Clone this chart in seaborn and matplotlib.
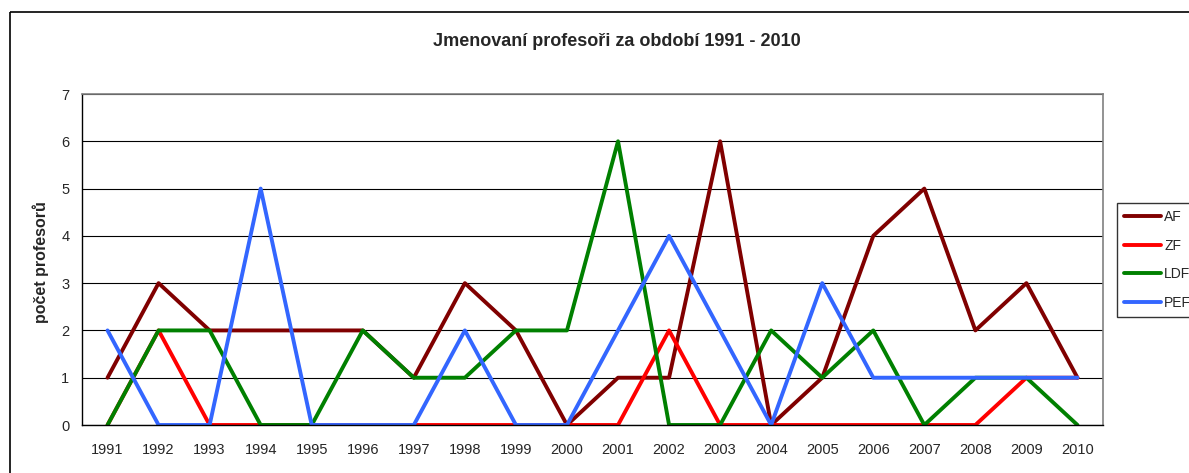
import numpy as np
import pandas as pd
import matplotlib
matplotlib.use("Agg")
import matplotlib.pyplot as plt
import seaborn as sns
from matplotlib.lines import Line2D

years = [str(y) for y in range(1991, 2011)]
af = [1, 3, 2, 2, 2, 2, 1, 3, 2, 0, 1, 1, 6, 0, 1, 4, 5, 2, 3, 1]
zf = [0, 2, 0, 0, 0, 0, 0, 0, 0, 0, 0, 2, 0, 0, 0, 0, 0, 0, 1, 1]
ldf = [0, 2, 2, 0, 0, 2, 1, 1, 2, 2, 6, 0, 0, 2, 1, 2, 0, 1, 1, 0]
pef = [2, 0, 0, 5, 0, 0, 0, 2, 0, 0, 2, 4, 2, 0, 3, 1, 1, 1, 1, 1]
series = ["AF", "ZF", "LDF", "PEF"]
colors = ["#800000", "#FF0000", "#008000", "#3366FF"]

# long format for seaborn
df = pd.DataFrame({
    "pos": list(range(len(years))) * 4,
    "fakulta": np.repeat(series, len(years)),
    "pocet": af + zf + ldf + pef,
})

sns.set_style("white")
plt.rcParams["font.family"] = ["Liberation Sans", "DejaVu Sans"]

fig = plt.figure(figsize=(11.89, 4.73), dpi=100)
ax = fig.add_axes([82 / 1189, 48 / 473, 1021 / 1189, 331 / 473])

sns.lineplot(data=df, x="pos", y="pocet", hue="fakulta", hue_order=series,
             palette=colors, linewidth=2.8, ax=ax, legend=True)

ax.set_xlim(-0.5, len(years) - 0.5)
ax.set_ylim(0, 7)
ax.set_yticks(range(0, 8))
ax.set_xticks(range(len(years)))
ax.set_xticklabels(years)
ax.set_xticks(np.arange(-0.5, len(years), 1), minor=True)
ax.tick_params(axis="x", which="major", length=0, pad=13, labelsize=10.5)
ax.tick_params(axis="x", which="minor", length=5, width=1, color="black", direction="out")
ax.tick_params(axis="y", length=5, width=1, color="black", direction="out", labelsize=10.5, pad=4)
ax.yaxis.grid(True, color="black", linewidth=0.8)
ax.set_axisbelow(True)

for side in ["left", "bottom"]:
    ax.spines[side].set_color("black")
    ax.spines[side].set_linewidth(1)
for side in ["top", "right"]:
    ax.spines[side].set_color("#808080")
    ax.spines[side].set_linewidth(1.2)

ax.set_xlabel("")
ax.set_ylabel("")
fig.text(41 / 1189, 1 - 262 / 473, "počet profesorů", rotation=90,
         ha="center", va="center", fontsize=11.5, fontweight="bold")

fig.text(617 / 1189, 1 - 42 / 473, "Jmenovaní profesoři za období 1991 - 2010",
         ha="center", va="center", fontsize=13, fontweight="bold")

leg = ax.legend(loc="upper left", bbox_to_anchor=(1117 / 1189, 1 - 203 / 473),
                bbox_transform=fig.transFigure, frameon=True, fancybox=False,
                fontsize=10, handlelength=2.7, handletextpad=0.2,
                labelspacing=1.05, borderpad=0.5, borderaxespad=0)
leg.get_frame().set_edgecolor("black")
leg.get_frame().set_linewidth(1)

# outer chart frame (cut off at right and bottom)
top = 1 - 12 / 473
left = 10 / 1189
fig.lines.append(Line2D([left, left], [-0.05, top], transform=fig.transFigure,
                        color="black", linewidth=1.2, solid_capstyle="butt"))
fig.lines.append(Line2D([left, 1.05], [top, top], transform=fig.transFigure,
                        color="black", linewidth=1.2, solid_capstyle="butt"))

fig.savefig("out.png", dpi=100)
